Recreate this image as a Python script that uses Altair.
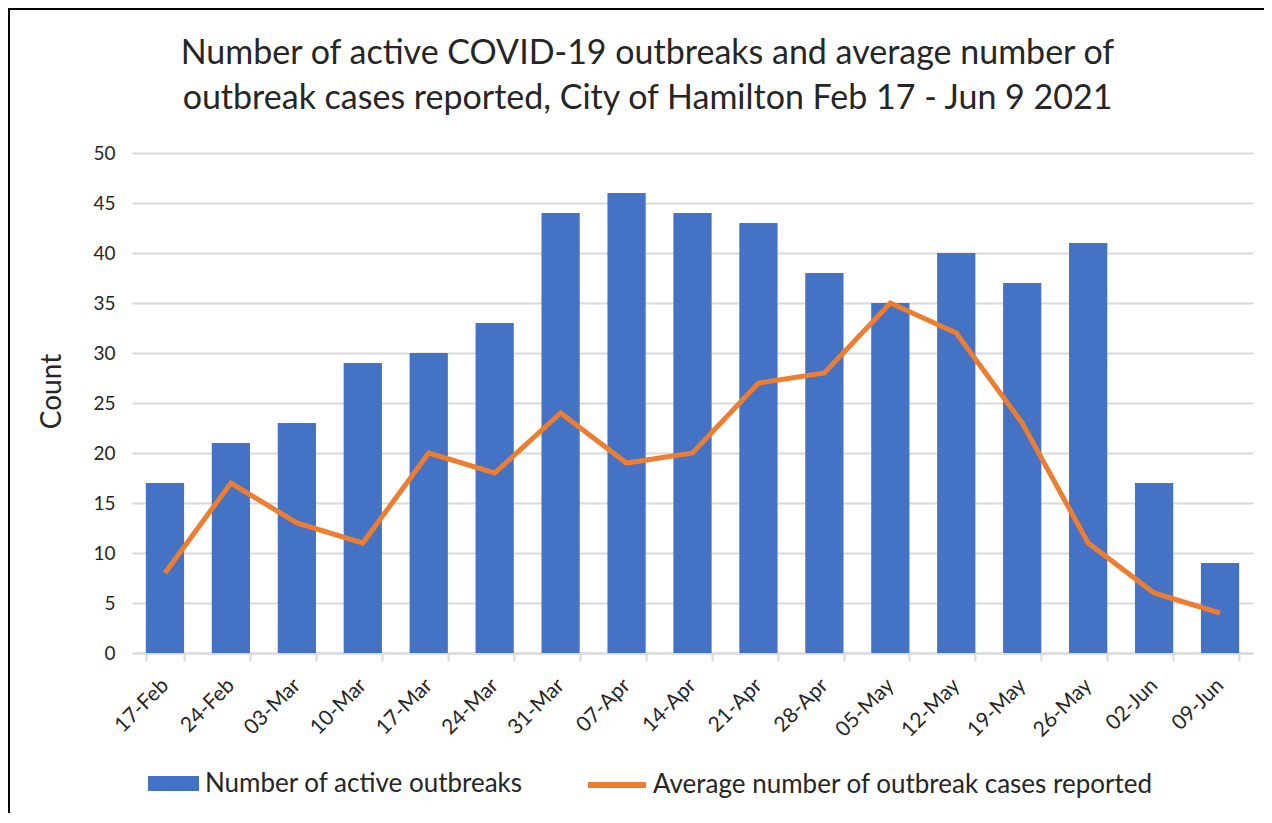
import altair as alt
import pandas as pd

weeks = ["17-Feb", "24-Feb", "03-Mar", "10-Mar", "17-Mar", "24-Mar", "31-Mar", "07-Apr",
         "14-Apr", "21-Apr", "28-Apr", "05-May", "12-May", "19-May", "26-May", "02-Jun", "09-Jun"]
active_outbreaks = [17, 21, 23, 29, 30, 33, 44, 46, 44, 43, 38, 35, 40, 37, 41, 17, 9]
avg_cases = [8, 17, 13, 11, 20, 18, 24, 19, 20, 27, 28, 35, 32, 23, 11, 6, 4]

bar_name = "Number of active outbreaks"
line_name = "Average number of outbreak cases reported"

df = pd.DataFrame({
    "week": weeks,
    "active": active_outbreaks,
    "avg": avg_cases,
    "bar_series": [bar_name] * len(weeks),
    "line_series": [line_name] * len(weeks),
})

FONT = "Lato"
TXT = "#262626"

x_enc = alt.X(
    "week:N", sort=weeks, title=None,
    scale=alt.Scale(paddingInner=0.42, paddingOuter=0.21),
    axis=alt.Axis(
        labelAngle=-45, labelAlign="right", labelBaseline="middle",
        labelFontSize=21, labelFont=FONT, labelColor=TXT, labelPadding=21,
        tickBand="extent", ticks=True, tickSize=8, tickColor="#d9d9d9", tickWidth=2,
        domain=True, domainColor="#d9d9d9", domainWidth=2, grid=False,
    ),
)

y_axis = alt.Axis(
    values=list(range(0, 51, 5)), domain=False, ticks=False, grid=True,
    gridColor="#d9d9d9", gridWidth=2, labelPadding=17, labelFontSize=19,
    labelFont=FONT, labelColor=TXT, title="Count", titleFont=FONT,
    titleFontSize=28, titleFontWeight="normal", titleColor=TXT,
    titleX=-80, titleY=238, titleAngle=-90, titleAlign="center", titleBaseline="middle",
)

border = alt.Chart(pd.DataFrame({"a": [0]})).mark_rect(
    filled=False, stroke="black", strokeWidth=2
).encode(
    x=alt.value(-123), x2=alt.value(1400), y=alt.value(-144), y2=alt.value(1000)
)

bars = alt.Chart(df).mark_bar().encode(
    x=x_enc,
    y=alt.Y("active:Q", scale=alt.Scale(domain=[0, 50]), axis=y_axis),
    fill=alt.Fill(
        "bar_series:N",
        scale=alt.Scale(domain=[bar_name], range=["#4472C4"]),
        legend=alt.Legend(
            title=None, orient="none", legendX=16, legendY=605, padding=0,
            symbolType="M-1,-0.294H1V0.294H-1Z", symbolSize=2601, symbolStrokeWidth=0,
            labelFontSize=26, labelFont=FONT, labelColor=TXT, labelOffset=6, labelLimit=800,
        ),
    ),
)

line = alt.Chart(df).mark_line(strokeWidth=5).encode(
    x=alt.X("week:N", sort=weeks),
    y=alt.Y("avg:Q"),
    stroke=alt.Stroke(
        "line_series:N",
        scale=alt.Scale(domain=[line_name], range=["#ED7D31"]),
        legend=alt.Legend(
            title=None, orient="none", legendX=453, legendY=600, padding=0,
            symbolType="stroke", symbolSize=3364, symbolStrokeWidth=6,
            labelFontSize=26, labelFont=FONT, labelColor=TXT, labelOffset=4, labelLimit=800,
        ),
    ),
)

chart = alt.layer(border, bars, line).properties(
    width=1121,
    height=500,
    autosize=alt.AutoSizeParams(type="none"),
    padding={"left": 124, "top": 145, "right": 11, "bottom": 160},
    background="white",
    title=alt.TitleParams(
        ["Number of active COVID-19 outbreaks and average number of",
         "outbreak cases reported, City of Hamilton Feb 17 - Jun 9 2021"],
        anchor="middle", frame="group", dx=-45, offset=-142, baseline="bottom",
        fontSize=34, font=FONT, fontWeight="normal", color=TXT, lineHeight=45,
    ),
).configure_view(strokeWidth=0)

chart.save("out.html", embed_options={"renderer": "svg", "actions": False})
